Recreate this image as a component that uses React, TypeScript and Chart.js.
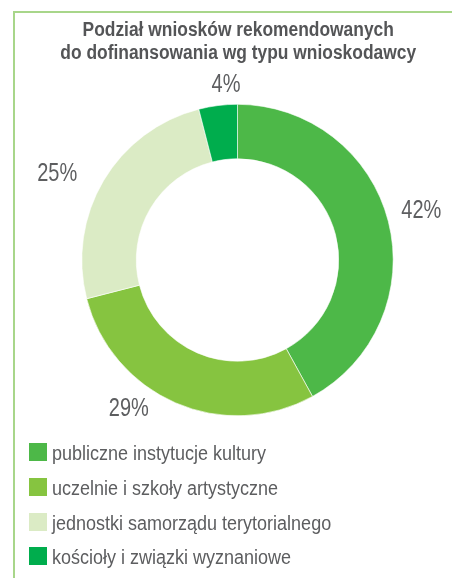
import React, { useEffect, useRef } from "react";
import { Chart, registerables } from "chart.js";

Chart.register(...registerables);

const TITLE_LINES = ["Podział wniosków rekomendowanych", "do dofinansowania wg typu wnioskodawcy"];
const CATEGORIES = [
  "publiczne instytucje kultury",
  "uczelnie i szkoły artystyczne",
  "jednostki samorządu terytorialnego",
  "kościoły i związki wyznaniowe",
];
const SHARES = [42, 29, 25, 4];
const COLORS = ["#4db848", "#86c440", "#dbebc5", "#00ad4d"];

const FONT = '"Liberation Sans", Arial, sans-serif';
const LABEL_CONDENSE = 0.8;
const TITLE_CONDENSE = 0.87;
const LEGEND_CONDENSE = 0.9;
const TEXT_COLOR = "#5d5e60";
const TITLE_COLOR = "#545557";

// label placement tweaks (degrees shift from slice middle, px beyond outer radius)
const LABEL_SHIFT = [-1, 13, -4.5, 3.5];
const LABEL_EXTRA = [35, 27.5, 45, 22];

function condensedText(ctx: CanvasRenderingContext2D, text: string, x: number, y: number, k: number) {
  ctx.save();
  ctx.translate(x, y);
  ctx.scale(k, 1);
  ctx.fillText(text, 0, 0);
  ctx.restore();
}

const titlePlugin = {
  id: "condensedTitle",
  afterDraw(chart: any) {
    const ctx = chart.ctx;
    const area = chart.chartArea;
    const cx = (area.left + area.right) / 2 + 0.7;
    ctx.save();
    ctx.font = `bold 20px ${FONT}`;
    ctx.fillStyle = TITLE_COLOR;
    ctx.textAlign = "center";
    ctx.textBaseline = "alphabetic";
    TITLE_LINES.forEach((line, i) => {
      condensedText(ctx, line, cx, 36 + i * 23, TITLE_CONDENSE);
    });
    ctx.restore();
  },
};

const labelPlugin = {
  id: "sliceLabels",
  afterDatasetsDraw(chart: any) {
    const meta = chart.getDatasetMeta(0);
    const ctx = chart.ctx;
    ctx.save();
    ctx.font = `25px ${FONT}`;
    ctx.fillStyle = TEXT_COLOR;
    ctx.textAlign = "center";
    ctx.textBaseline = "alphabetic";
    meta.data.forEach((arc: any, i: number) => {
      const p = arc.getProps(["x", "y", "startAngle", "endAngle", "outerRadius"], true);
      const mid = (p.startAngle + p.endAngle) / 2 + (LABEL_SHIFT[i] * Math.PI) / 180;
      const r = p.outerRadius + LABEL_EXTRA[i];
      const tx = p.x + Math.cos(mid) * r;
      const ty = p.y + Math.sin(mid) * r;
      condensedText(ctx, `${SHARES[i]}%`, tx, ty + 9, LABEL_CONDENSE);
    });
    ctx.restore();
  },
};

export default function App() {
  const ref = useRef<HTMLCanvasElement | null>(null);

  useEffect(() => {
    if (!ref.current) return;
    const chart = new Chart(ref.current, {
      type: "doughnut",
      data: {
        labels: CATEGORIES,
        datasets: [
          {
            data: SHARES,
            backgroundColor: COLORS,
            borderColor: "#ffffff",
            borderWidth: 0.6,
          },
        ],
      },
      options: {
        animation: false,
        responsive: false,
        devicePixelRatio: 1,
        cutout: "65%",
        rotation: 0,
        layout: { padding: { left: 23, right: 0, top: 104, bottom: 162 } },
        plugins: {
          legend: { display: false },
          tooltip: { enabled: false },
          title: { display: false },
        },
      },
      plugins: [labelPlugin, titlePlugin],
    });
    return () => chart.destroy();
  }, []);

  return (
    <div style={{ position: "absolute", left: 0, top: 0, width: 452, height: 578, background: "#fff", overflow: "hidden" }}>
      <div
        style={{
          position: "absolute",
          left: 13,
          top: 11,
          right: 0,
          bottom: 0,
          borderLeft: "2px solid #a8d68a",
          borderTop: "2px solid #a8d68a",
        }}
      />
      <canvas ref={ref} width={452} height={578} style={{ position: "absolute", left: 0, top: 0, width: 452, height: 578 }} />
      {CATEGORIES.map((c, i) => (
        <div key={c} style={{ position: "absolute", left: 29, top: 443 + i * 34.8, height: 18, width: 420 }}>
          <div style={{ position: "absolute", left: 0, top: 0, width: 18, height: 18, background: COLORS[i] }} />
          <span
            style={{
              position: "absolute",
              left: 23,
              top: 1,
              lineHeight: "18px",
              fontSize: 20,
              fontFamily: FONT,
              color: TEXT_COLOR,
              whiteSpace: "nowrap",
              transform: `scaleX(${LEGEND_CONDENSE})`,
              transformOrigin: "0 0",
            }}
          >
            {c}
          </span>
        </div>
      ))}
    </div>
  );
}
